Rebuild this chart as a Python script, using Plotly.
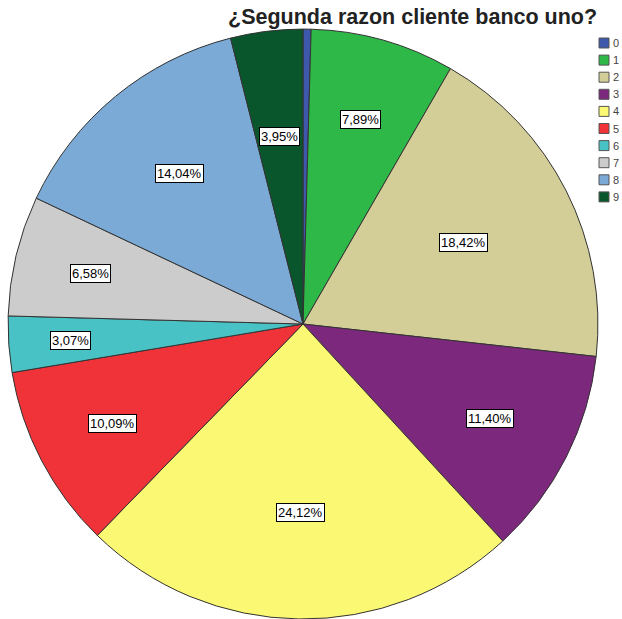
import math
import plotly.graph_objects as go

# Category codes and answer counts
categories = ["0", "1", "2", "3", "4", "5", "6", "7", "8", "9"]
counts = [1, 18, 42, 26, 55, 23, 7, 15, 32, 9]
colors = ["#3E58AC", "#2EB848", "#D3CE97", "#7C287D", "#FBF873",
          "#EF3338", "#48C2C5", "#CCCCCC", "#7AAAD5", "#0A562C"]

# How far out (as a fraction of the radius) each slice's label sits
label_radius = [0.0, 0.72, 0.61, 0.71, 0.64, 0.73, 0.79, 0.74, 0.66, 0.64]

total = sum(counts)
pct = [c / total * 100 for c in counts]

W, H = 622, 619
dom_x = [8 / W, 598 / W]
dom_y = [0.0, 0.953]

FONT = "Liberation Sans, Arial, sans-serif"

fig = go.Figure(go.Pie(
    labels=categories,
    values=counts,
    sort=False,
    direction="clockwise",
    rotation=0,
    marker=dict(colors=colors, line=dict(color="#333333", width=1)),
    textinfo="none",
    hoverinfo="label+percent",
    domain=dict(x=dom_x, y=dom_y),
    showlegend=False,
))

# Boxed percentage labels placed along each slice's mid-angle
cx = (dom_x[0] + dom_x[1]) / 2 * W
cy_paper = (dom_y[0] + dom_y[1]) / 2
R = min((dom_x[1] - dom_x[0]) * W, (dom_y[1] - dom_y[0]) * H) / 2
cum = 0.0
for p, fr in zip(pct, label_radius):
    mid = (cum + p / 2) / 100 * 2 * math.pi
    cum += p
    if p < 1:
        continue
    r = fr * R
    x = (cx + r * math.sin(mid)) / W
    y = cy_paper + r * math.cos(mid) / H
    fig.add_annotation(
        x=x, y=y, xref="paper", yref="paper",
        xanchor="center", yanchor="middle",
        text=f"{p:.2f}%".replace(".", ","),
        showarrow=False,
        font=dict(family=FONT, size=13, color="#000000"),
        bgcolor="#FFFFFF", bordercolor="#000000", borderwidth=1, borderpad=1,
    )

# Compact legend column on the right: colour swatch plus category code
LEG_X, LEG_Y0, LEG_STEP, SW = 599, 43, 17.1, 10
for i, (cat, col) in enumerate(zip(categories, colors)):
    yc = LEG_Y0 + i * LEG_STEP
    fig.add_shape(
        type="rect", xref="paper", yref="paper",
        x0=LEG_X / W, x1=(LEG_X + SW) / W,
        y0=1 - (yc + SW / 2) / H, y1=1 - (yc - SW / 2) / H,
        fillcolor=col, line=dict(color="#555555", width=1),
    )
    fig.add_annotation(
        x=(LEG_X + SW + 2) / W, y=1 - yc / H, xref="paper", yref="paper",
        xanchor="left", yanchor="middle",
        text=cat, showarrow=False,
        font=dict(family=FONT, size=11, color="#444444"),
    )

fig.add_annotation(
    x=412 / W, y=1 - 17 / H, xref="paper", yref="paper",
    xanchor="center", yanchor="middle",
    text="<b>¿Segunda razon cliente banco uno?</b>",
    showarrow=False,
    font=dict(family=FONT, size=21.5, color="#222222"),
)

fig.update_layout(
    width=W, height=H,
    margin=dict(l=0, r=0, t=0, b=0, autoexpand=False),
    paper_bgcolor="#FFFFFF",
    showlegend=False,
)

fig.write_html("out.html")
